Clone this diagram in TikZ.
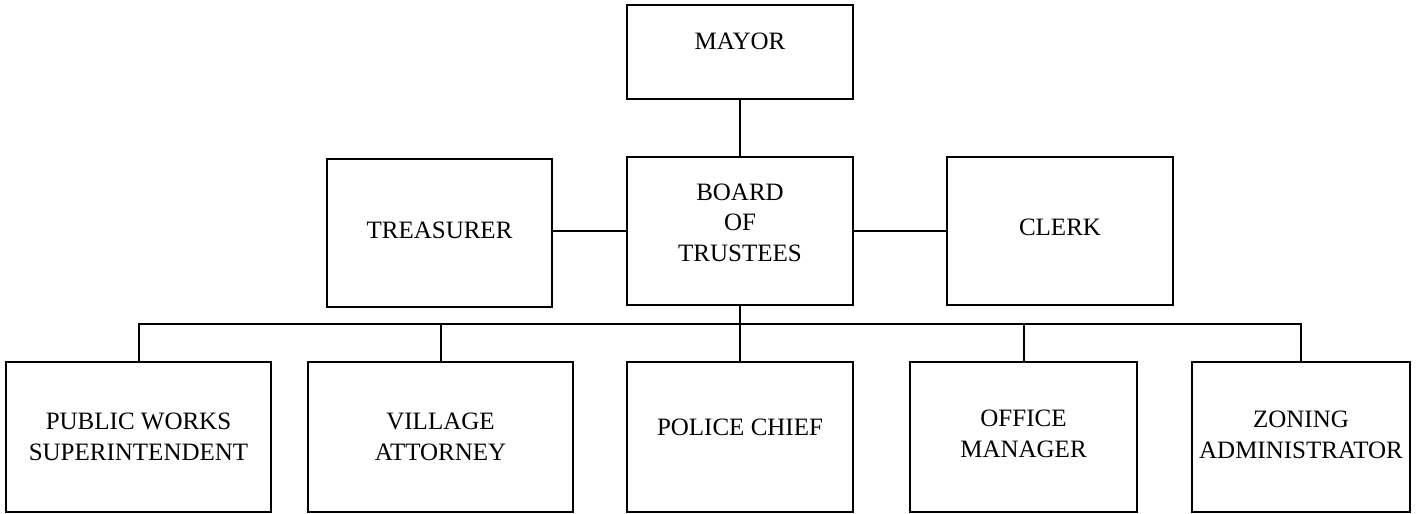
\documentclass[tikz,border=0pt]{standalone}
\usepackage{fontspec}
\setmainfont{Liberation Serif}
\begin{document}
\begin{tikzpicture}[x=1pt,y=-1pt,
  box/.style={draw,line width=2pt,inner sep=0pt,minimum height=#1},
  box/.default=148pt,
  lbl/.style={inner sep=0pt,align=center,font=\fontsize{25}{30.5}\selectfont},
  conn/.style={line width=2pt}]
\useasboundingbox (0,0) rectangle (1417,514);
% boxes
\node[box=94pt,minimum width=226pt] (mayor) at (740,52) {};
\node[box,minimum width=225pt] (treas) at (439.5,233) {};
\node[box,minimum width=226pt] (board) at (740,231) {};
\node[box,minimum width=226pt] (clerk) at (1060,231) {};
\node[box=150pt,minimum width=265pt] (pw) at (138.5,437) {};
\node[box=150pt,minimum width=265pt] (va) at (440.5,437) {};
\node[box=150pt,minimum width=226pt] (pc) at (740,437) {};
\node[box=150pt,minimum width=227pt] (om) at (1023.5,437) {};
\node[box=150pt,minimum width=218pt] (zon) at (1301,437) {};
% labels
\node[lbl] (mayort) at ([yshift=11pt]mayor.center) {MAYOR};
\node[lbl] (treast) at ([yshift=2.5pt]treas.center) {TREASURER};
\node[lbl] (boardt) at ([yshift=8.5pt]board.center) {BOARD\\OF\\TRUSTEES};
\node[lbl] (clerkt) at ([yshift=3.5pt]clerk.center) {CLERK};
\node[lbl] (pwt) at (pw.center) {PUBLIC WORKS\\SUPERINTENDENT};
\node[lbl] (vat) at (va.center) {VILLAGE\\ATTORNEY};
\node[lbl] (pct) at ([yshift=10pt]pc.center) {POLICE CHIEF};
\node[lbl] (omt) at ([yshift=3pt]om.center) {OFFICE\\MANAGER};
\node[lbl] (zont) at ([yshift=2pt]zon.center) {ZONING\\ADMINISTRATOR};
% connectors
\coordinate (bar) at (740,324);
\draw[conn] (mayor.south) -- (board.north);
\draw[conn] (treas.east |- board.west) -- (board.west);
\draw[conn] (board.east) -- (clerk.west);
\draw[conn] (board.south) -- (bar);
\draw[conn] (pw.north) |- (bar) -| (zon.north);
\draw[conn] (va.north) -- (va.north |- bar);
\draw[conn] (pc.north) -- (bar);
\draw[conn] (om.north) -- (om.north |- bar);
\end{tikzpicture}
\end{document}
